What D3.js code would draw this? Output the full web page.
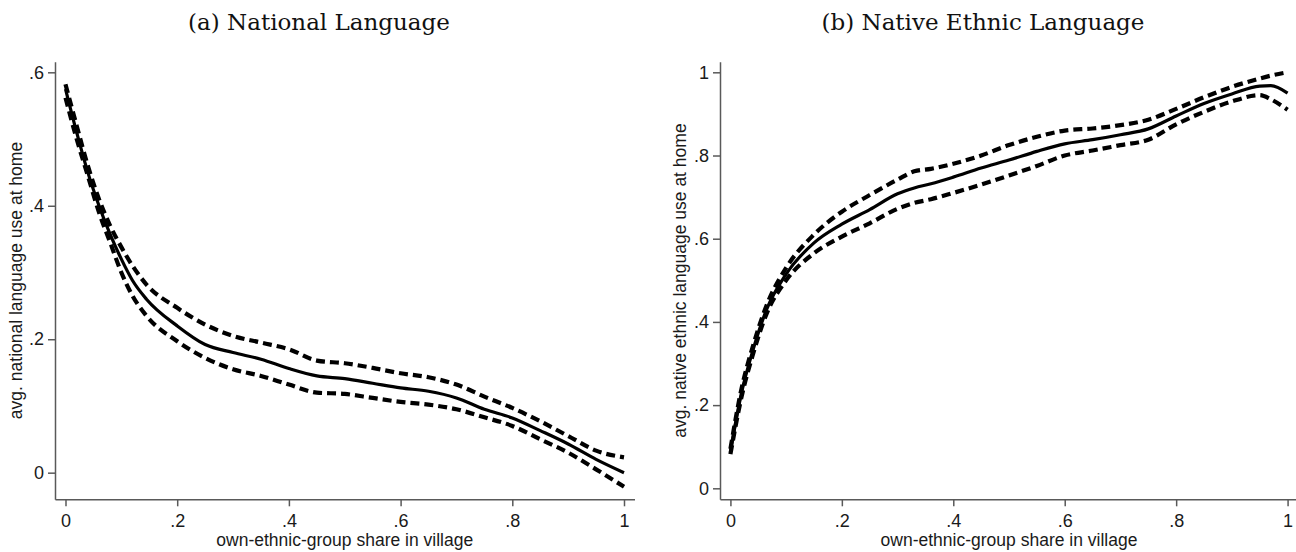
<!DOCTYPE html>
<html>
<head>
<meta charset="utf-8">
<script src="https://cdn.jsdelivr.net/npm/d3@7"></script>
<style>
    body { margin: 0; background: #fff; }
    svg { display: block; }
    .axis path, .axis line { stroke: #595959; stroke-width: 1.5; }
    .axis text { font-family: "Liberation Sans", Arial, sans-serif; font-size: 18px; fill: #1a1a1a; }
    .axis-title { font-family: "Liberation Sans", Arial, sans-serif; font-size: 17.5px; fill: #1a1a1a; }
    .panel-title { font-family: "DejaVu Serif", serif; font-size: 23px; fill: #111; }
</style>
</head>
<body>
<div id="chart"></div>
<script>
// (a) national language
const nationalShare = [0, 0.02, 0.04, 0.06, 0.08, 0.1, 0.12, 0.145, 0.2, 0.25, 0.3, 0.35, 0.4,
    0.45, 0.5, 0.55, 0.6, 0.65, 0.7, 0.75, 0.8, 0.85, 0.9, 0.95, 1];
const nationalFit = [0.575, 0.51, 0.45, 0.4, 0.357, 0.32, 0.288, 0.26, 0.22, 0.192, 0.18, 0.17, 0.156,
    0.145, 0.141, 0.134, 0.127, 0.122, 0.112, 0.095, 0.082, 0.063, 0.043, 0.02, 0.0];
const nationalUpper = [0.582, 0.52, 0.46, 0.41, 0.37, 0.338, 0.31, 0.282, 0.247, 0.222, 0.205, 0.195, 0.185,
    0.168, 0.164, 0.157, 0.149, 0.143, 0.132, 0.114, 0.097, 0.077, 0.055, 0.033, 0.023];
const nationalLower = [0.562, 0.5, 0.445, 0.39, 0.345, 0.3, 0.265, 0.235, 0.197, 0.172, 0.155, 0.145, 0.132,
    0.12, 0.118, 0.112, 0.106, 0.102, 0.095, 0.083, 0.07, 0.05, 0.03, 0.005, -0.021];

// (b) native ethnic language
const ethnicShare = [0, 0.02, 0.04, 0.065, 0.1, 0.15, 0.2, 0.25, 0.3, 0.33, 0.36, 0.4, 0.45,
    0.5, 0.55, 0.6, 0.65, 0.7, 0.75, 0.8, 0.85, 0.9, 0.95, 0.97, 1];
const ethnicFit = [0.088, 0.23, 0.33, 0.43, 0.515, 0.59, 0.635, 0.67, 0.708, 0.722, 0.732, 0.748, 0.77,
    0.789, 0.81, 0.828, 0.838, 0.85, 0.864, 0.895, 0.925, 0.948, 0.967, 0.968, 0.95];
const ethnicUpper = [0.095, 0.24, 0.34, 0.44, 0.53, 0.61, 0.665, 0.705, 0.742, 0.762, 0.768, 0.78, 0.8,
    0.825, 0.845, 0.86, 0.865, 0.873, 0.886, 0.912, 0.94, 0.965, 0.985, 0.992, 1.0];
const ethnicLower = [0.082, 0.22, 0.32, 0.42, 0.5, 0.565, 0.605, 0.637, 0.672, 0.686, 0.695, 0.71, 0.73,
    0.752, 0.775, 0.8, 0.812, 0.825, 0.838, 0.875, 0.905, 0.93, 0.945, 0.935, 0.91];

const xTicks = [0, 0.2, 0.4, 0.6, 0.8, 1];
const xTickLabels = ["0", ".2", ".4", ".6", ".8", "1"];
const nationalTicks = [0, 0.2, 0.4, 0.6];
const nationalTickLabels = ["0", ".2", ".4", ".6"];
const ethnicTicks = [0, 0.2, 0.4, 0.6, 0.8, 1];
const ethnicTickLabels = ["0", ".2", ".4", ".6", ".8", "1"];

const width = 1296;
const height = 552;

const svg = d3
    .select("#chart")
    .append("svg")
    .attr("width", width)
    .attr("height", height);

drawPanel({
    title: "(a) National Language",
    titleX: 319,
    yTitle: "avg. national language use at home",
    yTitleX: 22,
    left: 55, right: 634.5, top: 61.7, bottom: 499.3,
    xDomain: [-0.0188, 1.0188],
    yDomain: [-0.0399, 0.6159],
    yTicks: nationalTicks,
    yTickLabels: nationalTickLabels,
    share: nationalShare,
    fit: nationalFit,
    upper: nationalUpper,
    lower: nationalLower
});

drawPanel({
    title: "(b) Native Ethnic Language",
    titleX: 983,
    yTitle: "avg. native ethnic language use at home",
    yTitleX: 686,
    left: 720, right: 1298, top: 61.7, bottom: 499.3,
    xDomain: [-0.0187, 1.0187],
    yDomain: [-0.0264, 1.0255],
    yTicks: ethnicTicks,
    yTickLabels: ethnicTickLabels,
    share: ethnicShare,
    fit: ethnicFit,
    upper: ethnicUpper,
    lower: ethnicLower
});

function drawPanel(p) {
    const xScale = d3.scaleLinear().domain(p.xDomain).range([p.left, p.right]);
    const yScale = d3.scaleLinear().domain(p.yDomain).range([p.bottom, p.top]);
    const g = svg.append("g");

    const xAxis = d3
        .axisBottom(xScale)
        .tickValues(xTicks)
        .tickFormat((d, i) => xTickLabels[i])
        .tickSize(7)
        .tickSizeOuter(0)
        .tickPadding(8);

    const yAxis = d3
        .axisLeft(yScale)
        .tickValues(p.yTicks)
        .tickFormat((d, i) => p.yTickLabels[i])
        .tickSize(7)
        .tickSizeOuter(0)
        .tickPadding(4);

    g.append("g")
        .attr("class", "axis")
        .attr("transform", `translate(0, ${p.bottom})`)
        .call(xAxis);

    g.append("g")
        .attr("class", "axis")
        .attr("transform", `translate(${p.left}, 0)`)
        .call(yAxis);

    g.selectAll(".axis text").attr("font-family", null).attr("font-size", null);

    const line = series => d3
        .line()
        .x((d, i) => xScale(p.share[i]))
        .y(d => yScale(d))
        .curve(d3.curveMonotoneX)(series);

    // confidence band edges
    g.selectAll(".band")
        .data([p.upper, p.lower])
        .enter()
        .append("path")
        .attr("class", "band")
        .attr("d", line)
        .attr("fill", "none")
        .attr("stroke", "#000")
        .attr("stroke-width", 4.2)
        .attr("stroke-dasharray", "9 5");

    g.append("path")
        .attr("d", line(p.fit))
        .attr("fill", "none")
        .attr("stroke", "#000")
        .attr("stroke-width", 3.2);

    g.append("text")
        .attr("class", "panel-title")
        .attr("x", p.titleX)
        .attr("y", 30)
        .attr("text-anchor", "middle")
        .text(p.title);

    g.append("text")
        .attr("class", "axis-title")
        .attr("x", (xScale(0) + xScale(1)) / 2)
        .attr("y", 546)
        .attr("text-anchor", "middle")
        .text("own-ethnic-group share in village");

    g.append("text")
        .attr("class", "axis-title")
        .attr("transform", `translate(${p.yTitleX}, ${(p.top + p.bottom) / 2}) rotate(-90)`)
        .attr("text-anchor", "middle")
        .text(p.yTitle);
}
</script>
</body>
</html>
